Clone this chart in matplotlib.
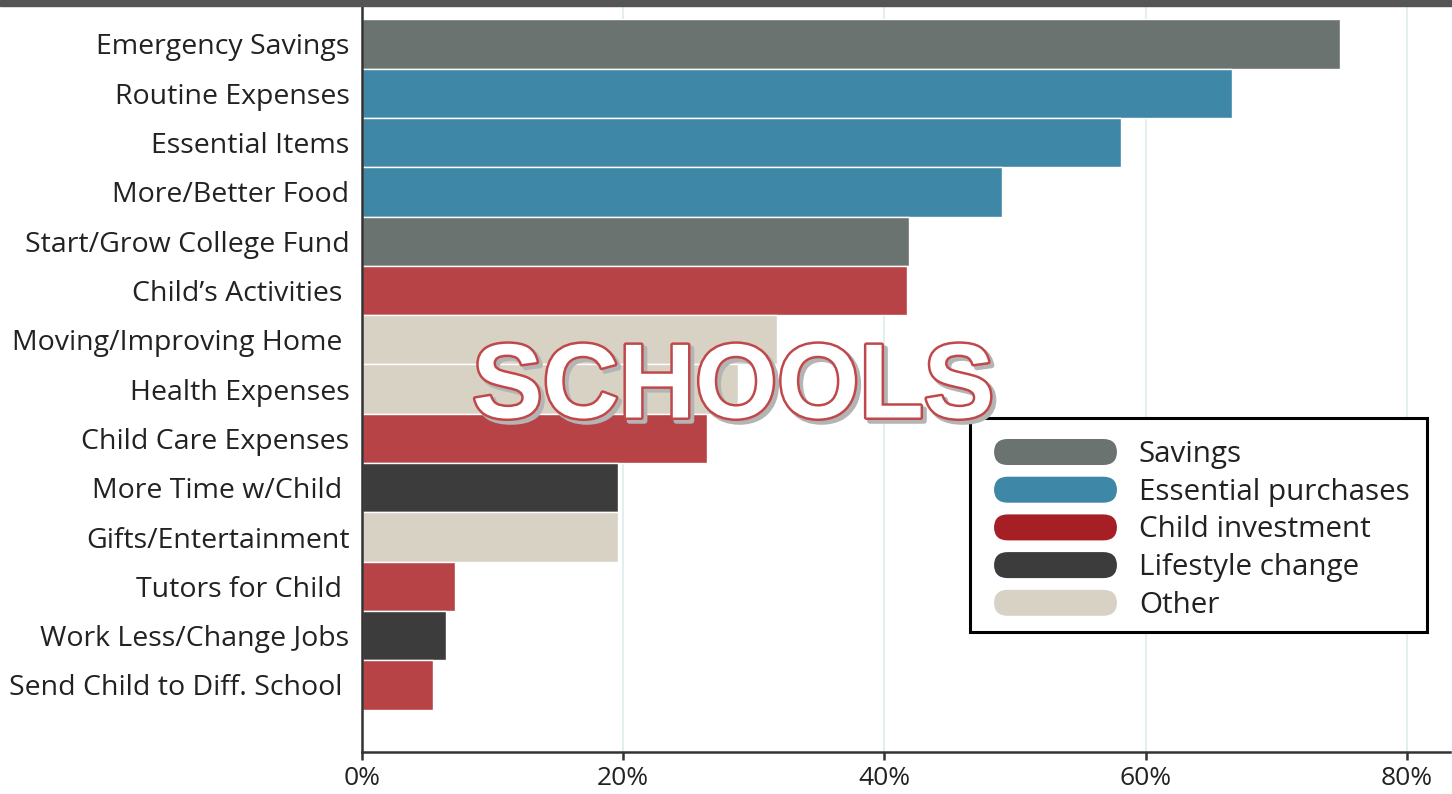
import matplotlib
matplotlib.use("Agg")
import matplotlib.pyplot as plt
import matplotlib.patheffects as pe
from matplotlib.patches import FancyBboxPatch, Rectangle

categories = ["Emergency Savings", "Routine Expenses", "Essential Items", "More/Better Food",
              "Start/Grow College Fund", "Child\u2019s Activities ", "Moving/Improving Home ",
              "Health Expenses", "Child Care Expenses", "More Time w/Child ",
              "Gifts/Entertainment", "Tutors for Child ", "Work Less/Change Jobs",
              "Send Child to Diff. School "]
values = [74.9, 66.6, 58.1, 49.0, 41.9, 41.7, 31.8, 28.8, 26.4, 19.6, 19.6, 7.1, 6.4, 5.4]
groups = ["Savings", "Essential purchases", "Essential purchases", "Essential purchases",
          "Savings", "Child investment", "Other", "Other", "Child investment",
          "Lifestyle change", "Other", "Child investment", "Lifestyle change", "Child investment"]
legend_labels = ["Savings", "Essential purchases", "Child investment", "Lifestyle change", "Other"]
bar_colors = {"Savings": "#6b7371", "Essential purchases": "#3f87a6", "Child investment": "#b84346",
              "Lifestyle change": "#3c3c3c", "Other": "#d8d2c5"}
legend_colors = {"Savings": "#6b7371", "Essential purchases": "#3f87a6", "Child investment": "#a51f24",
                 "Lifestyle change": "#3c3c3c", "Other": "#d8d2c5"}
xticks = [0, 20, 40, 60, 80]

plt.rcParams['font.family'] = ['Open Sans', 'DejaVu Sans']

fig = plt.figure(figsize=(14.52, 7.94), dpi=100)
ax = fig.add_axes([362/1452, 1-752/794, 1088/1452, 746/794])

y = list(range(len(categories)))
ax.barh(y, values, height=1.0, color=[bar_colors[g] for g in groups],
        edgecolor="white", linewidth=1.0, zorder=2)
ax.set_ylim(13 + 1.36, -0.77)
ax.set_xlim(0, 83.3)
ax.set_yticks(y)
ax.set_yticklabels(categories, fontsize=20.5, color="#222222")
ax.set_xticks(xticks)
ax.set_xticklabels([f"{t}%" for t in xticks], fontsize=19, color="#222222")
ax.tick_params(axis='y', length=0, pad=9)
ax.tick_params(axis='x', length=6, width=1.8, color="#333333", pad=4)
for t in xticks[1:]:
    ax.axvline(t, color="#e2eef0", linewidth=1.5, zorder=1)
for s in ["top", "right"]:
    ax.spines[s].set_visible(False)
for s in ["left", "bottom"]:
    ax.spines[s].set_color("#333333")
    ax.spines[s].set_linewidth(1.8)

# top band
fig.add_artist(Rectangle((0, 1-6/794), 1, 6/794, transform=fig.transFigure,
                         color="#555555", zorder=10))

# legend
lx0, ly0, lx1, ly1 = (970-362)/1088, (752-632)/746, (1427-362)/1088, (752-418)/746
ax.add_patch(Rectangle((lx0, ly0), lx1-lx0, ly1-ly0, transform=ax.transAxes,
                       facecolor="white", edgecolor="black", linewidth=2.2, zorder=5))
for i, lab in enumerate(legend_labels):
    cy = 452 + i * 37.7
    px0 = (994-362)/1088
    pw = 123/1088
    ph = 26/746
    pyc = (752-cy)/746
    ax.add_patch(FancyBboxPatch((px0, pyc - ph/2), pw, ph, transform=ax.transAxes,
                                boxstyle="round,pad=0,rounding_size=0.0125",
                                mutation_aspect=1088/746,
                                facecolor=legend_colors[lab], edgecolor="none", zorder=6))
    ax.text((1139-362)/1088, pyc - 2.5/746, lab, transform=ax.transAxes, fontsize=21.3,
            color="#222222", va="center", ha="left", zorder=7)

# watermark
fig.text(733/1452, 1-390/794, "SCHOOLS", family="Liberation Sans", fontweight="bold",
         fontsize=76, color="white", ha="center", va="center", zorder=20,
         path_effects=[pe.Stroke(linewidth=4, foreground="#b4b4b4", offset=(2.5, -2.5)),
                       pe.Stroke(linewidth=3.6, foreground="#c0484a"),
                       pe.Normal()])

fig.savefig("out.png", dpi=100)
